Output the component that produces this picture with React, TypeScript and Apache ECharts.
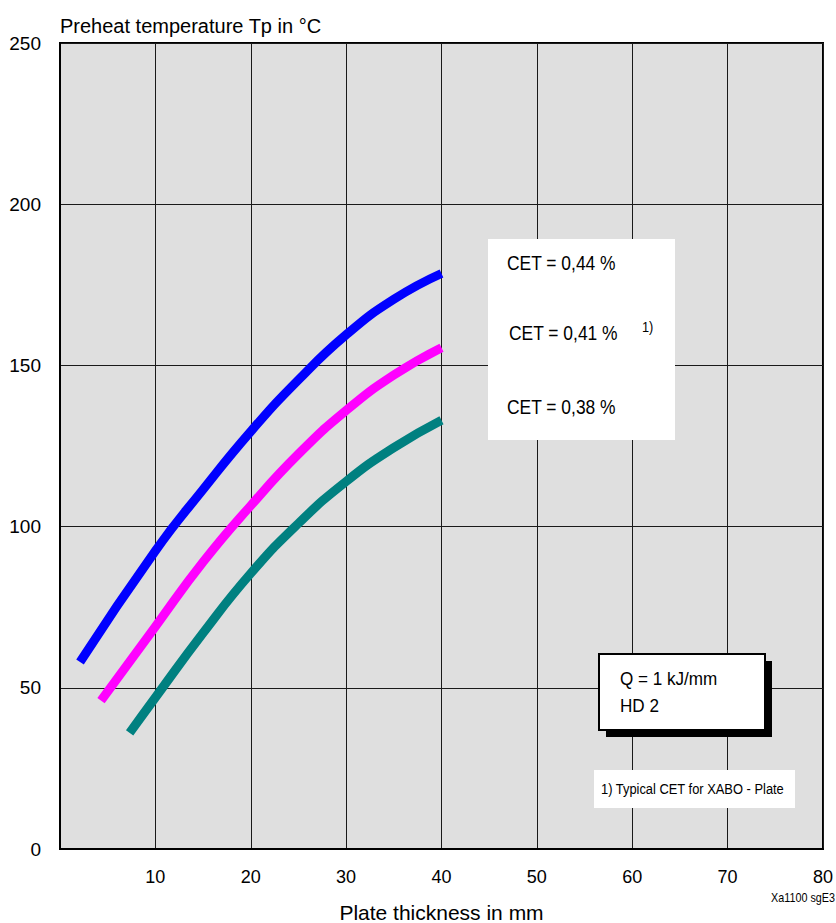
import React, { useEffect, useRef } from "react";
import * as echarts from "echarts";

// Plate thickness (mm) and preheat temperature (°C) per CET curve
const cet044X = [2.1, 10, 15, 20, 25, 30, 35, 40];
const cet044Y = [58, 92.5, 111.5, 129.5, 145.5, 159.5, 170.5, 178.5];
const cet041X = [4.3, 10, 15, 20, 25, 30, 35, 40];
const cet041Y = [46, 69, 89, 106.5, 122.5, 136, 147, 155.5];
const cet038X = [7.3, 10, 15, 20, 25, 30, 35, 40];
const cet038Y = [36, 47, 67, 85.5, 101, 114, 124.5, 133];

const seriesNames = ["CET = 0,44 %", "CET = 0,41 %", "CET = 0,38 %"];
const seriesColors = ["#0000FF", "#FF00FF", "#008080"];
const xTicks = [0, 10, 20, 30, 40, 50, 60, 70, 80];
const yTicks = [0, 50, 100, 150, 200, 250];

const FONT = "'Liberation Sans', Arial, sans-serif";

function pairs(xs: number[], ys: number[]) {
  return xs.map((x, i) => [x, ys[i]]);
}

function label(text: string, x: number, y: number, size: number, sx: number, align = "left", z = 11) {
  return {
    type: "text",
    x,
    y,
    scaleX: sx,
    z,
    style: {
      text,
      fontFamily: FONT,
      fontSize: size,
      fill: "#000",
      textAlign: align,
      textVerticalAlign: "middle",
    },
  };
}

export default function App() {
  const ref = useRef<HTMLDivElement>(null);
  useEffect(() => {
    if (!ref.current) return;
    const chart = echarts.init(ref.current, undefined, { renderer: "svg" });
    const dataSets = [
      pairs(cet044X, cet044Y),
      pairs(cet041X, cet041Y),
      pairs(cet038X, cet038Y),
    ];
    chart.setOption({
      animation: false,
      backgroundColor: "#FFFFFF",
      grid: {
        left: 60,
        top: 43,
        right: 13,
        bottom: 74,
        outerBoundsMode: "none",
        containLabel: false,
        show: true,
        backgroundColor: "#DFDFDF",
        borderColor: "#000",
        borderWidth: 2,
      },
      xAxis: {
        type: "value",
        min: xTicks[0],
        max: xTicks[xTicks.length - 1],
        interval: 10,
        name: "Plate thickness in mm",
        nameLocation: "middle",
        nameGap: 63,
        nameTextStyle: {
          color: "#000",
          fontFamily: FONT,
          fontSize: 21,
          verticalAlign: "middle",
        },
        axisLine: { show: true, lineStyle: { color: "#000", width: 2 } },
        axisTick: { show: false },
        axisLabel: {
          color: "#000",
          fontFamily: FONT,
          fontSize: 18,
          margin: 19,
          showMinLabel: false,
          formatter: (v: number) => (v === 0 ? "" : String(v)),
        },
        splitLine: { show: true, lineStyle: { color: "#1a1a1a", width: 1 } },
      },
      yAxis: {
        type: "value",
        min: yTicks[0],
        max: yTicks[yTicks.length - 1],
        interval: 50,
        name: "Preheat temperature Tp in °C",
        nameLocation: "end",
        nameGap: 17,
        nameTextStyle: {
          color: "#000",
          fontFamily: FONT,
          fontSize: 20,
          align: "left",
          verticalAlign: "middle",
        },
        axisLine: { show: true, lineStyle: { color: "#000", width: 2 } },
        axisTick: { show: false },
        axisLabel: {
          color: "#000",
          fontFamily: FONT,
          fontSize: 19,
          margin: 19,
        },
        splitLine: { show: true, lineStyle: { color: "#1a1a1a", width: 1 } },
      },
      series: dataSets.map((d, i) => ({
        type: "line",
        name: seriesNames[i],
        data: d,
        smooth: 0.5,
        showSymbol: false,
        symbol: "none",
        lineStyle: { color: seriesColors[i], width: 9, cap: "butt" },
        z: 3,
      })),
      graphic: [
        {
          type: "rect",
          shape: { x: 488, y: 239, width: 187, height: 201 },
          style: { fill: "#FFFFFF" },
          z: 10,
        },
        label(seriesNames[0], 507, 263, 21, 0.83),
        label(seriesNames[1], 509, 333, 21, 0.83),
        label("1)", 642, 327, 15, 0.85),
        label(seriesNames[2], 507, 407, 21, 0.83),
        {
          type: "rect",
          shape: { x: 606, y: 661, width: 166, height: 76 },
          style: { fill: "#000" },
          z: 10,
        },
        {
          type: "rect",
          shape: { x: 599, y: 654, width: 166, height: 76 },
          style: { fill: "#FFFFFF", stroke: "#000", lineWidth: 2 },
          z: 11,
        },
        label("Q = 1 kJ/mm", 620, 679, 19, 0.9, "left", 12),
        label("HD 2", 620, 706, 19, 0.9, "left", 12),
        {
          type: "rect",
          shape: { x: 594, y: 770, width: 201, height: 38 },
          style: { fill: "#FFFFFF" },
          z: 10,
        },
        label("1) Typical CET for XABO - Plate", 601, 789, 15, 0.86),
        label("Xa1100 sgE3", 835, 898, 13, 0.83, "right"),
      ],
    });
    return () => chart.dispose();
  }, []);
  return (
    <div
      ref={ref}
      style={{ position: "fixed", left: 0, top: 0, width: 836, height: 923 }}
    />
  );
}
